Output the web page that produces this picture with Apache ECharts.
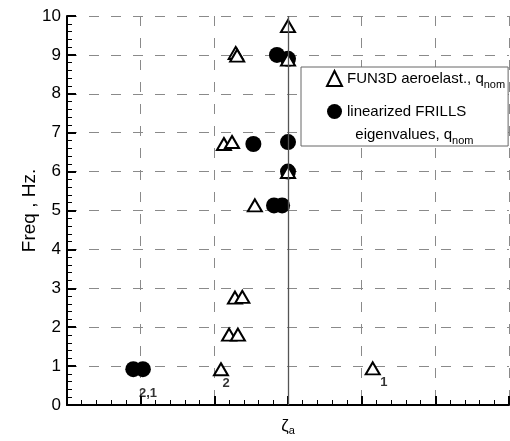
<!DOCTYPE html>
<html><head><meta charset="utf-8">
<script src="https://cdn.jsdelivr.net/npm/echarts@6/dist/echarts.min.js"></script>
<style>html,body{margin:0;padding:0;background:#fff}#c{width:510px;height:441px}</style>
</head><body><div id="c"></div>
<script>
// FUN3D aeroelastic (open triangles): [zeta_a, freq]
const fun3dX = [0.00, -0.71, -0.69, 0.00, -0.87, -0.76, 0.00, -0.45, -0.72, -0.62, -0.80, -0.68, -0.91, 1.15];
const fun3dY = [9.74, 9.05, 8.98, 8.88, 6.71, 6.76, 5.99, 5.13, 2.76, 2.78, 1.81, 1.81, 0.92, 0.94];
// linearized FRILLS eigenvalues (filled circles)
const frillsX = [-0.15, 0.00, -0.47, 0.00, 0.00, -0.19, -0.08, -2.10, -1.97];
const frillsY = [9.00, 8.90, 6.71, 6.76, 6.00, 5.13, 5.13, 0.92, 0.92];
// mode annotations
const annX = [-1.90, -0.84, 1.30];
const annY = [0.30, 0.55, 0.57];
const annText = ['2,1', '2', '1'];
const yTicks = [0,1,2,3,4,5,6,7,8,9,10];

const zip = (a, b) => a.map((v, i) => [v, b[i]]);
const font = '"Liberation Sans", Arial, sans-serif';
const chart = echarts.init(document.getElementById('c'));
const grid = {lineStyle: {color: '#8a8a8a', width: 1, type: [10, 12]}};
chart.setOption({
  animation: false,
  textStyle: {fontFamily: font},
  grid: {left: 67, right: 1, top: 16, bottom: 33},
  xAxis: {
    type: 'value', min: -3, max: 3, interval: 1,
    name: '{z|ζ}{s|a}', nameLocation: 'middle', nameGap: 12, nameMoveOverlap: false,
    nameTextStyle: {rich: {z: {fontSize: 17, fontFamily: font, color: '#000'}, s: {fontSize: 11, fontFamily: font, color: '#000', verticalAlign: 'bottom', padding: [8, 0, 0, 0]}}},
    axisLine: {onZero: false, lineStyle: {color: '#000', width: 2}},
    axisTick: {inside: true, length: 9, lineStyle: {color: '#000', width: 2}},
    minorTick: {show: true, splitNumber: 5, length: 5, lineStyle: {color: '#000', width: 1}},
    axisLabel: {show: false},
    splitLine: Object.assign({show: true}, grid)
  },
  yAxis: {
    type: 'value', min: 0, max: 10, interval: 1,
    name: 'Freq , Hz.', nameLocation: 'middle', nameGap: 28, nameMoveOverlap: false,
    nameTextStyle: {fontSize: 19, color: '#000', fontFamily: font},
    axisLine: {onZero: false, lineStyle: {color: '#000', width: 2}},
    axisTick: {inside: true, length: 9, lineStyle: {color: '#000', width: 2}},
    minorTick: {show: true, splitNumber: 5, length: 5, lineStyle: {color: '#000', width: 1}},
    axisLabel: {color: '#000', fontSize: 17, margin: 6, fontFamily: font,
      formatter: v => yTicks.includes(v) ? String(v) : ''},
    splitLine: Object.assign({show: true}, grid)
  },
  legend: {
    orient: 'vertical', left: 301, top: 67,
    padding: [0, 3, 0, 25], itemGap: -13,
    itemWidth: 15, itemHeight: 15,
    borderColor: '#666', borderWidth: 1, backgroundColor: '#fff',
    data: ['fun3d', 'frills'],
    formatter: n => n === 'fun3d' ? 'FUN3D aeroelast., q{s|nom}' : ' \nlinearized FRILLS\n  {l|eigenvalues, q}{s|nom}',
    textStyle: {fontSize: 15, color: '#000', fontFamily: font, lineHeight: 23,
      rich: {s: {fontSize: 11, color: '#000', fontFamily: font, verticalAlign: 'bottom', padding: [10, 0, 0, 0]},
             l: {fontSize: 15, color: '#000', fontFamily: font}}}
  },
  series: [
    {
      name: 'zero', type: 'line', data: [], silent: true,
      markLine: {symbol: 'none', silent: true, label: {show: false},
        lineStyle: {color: '#555', width: 1.3, type: 'solid'}, data: [{xAxis: 0}]}
    },
    {
      name: 'frills', type: 'scatter', data: zip(frillsX, frillsY),
      symbol: 'circle', symbolSize: 16, itemStyle: {color: '#000', opacity: 1}
    },
    {
      name: 'fun3d', type: 'scatter', data: zip(fun3dX, fun3dY),
      symbol: 'triangle', symbolSize: [14, 12],
      itemStyle: {color: '#fff', borderColor: '#000', borderWidth: 2, opacity: 1}
    },
    {
      name: 'ann', type: 'scatter', symbolSize: 0, silent: true,
      data: annX.map((x, i) => ({value: [x, annY[i]], name: annText[i]})),
      label: {show: true, position: 'inside', formatter: p => p.name,
        fontSize: 13, fontWeight: 'bold', color: '#000', fontFamily: font}
    }
  ]
});
</script></body></html>
